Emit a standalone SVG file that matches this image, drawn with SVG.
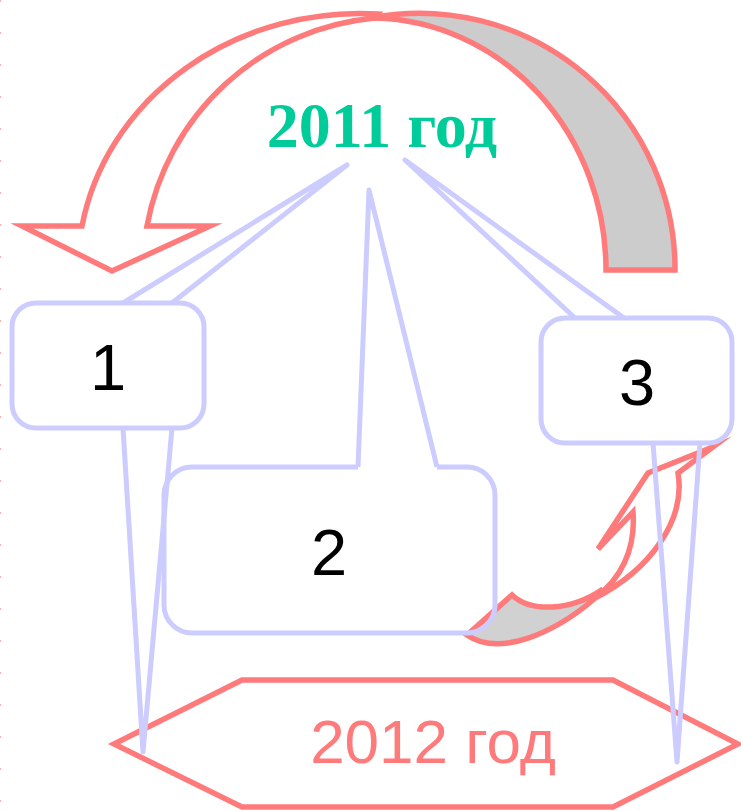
<svg xmlns="http://www.w3.org/2000/svg" width="741" height="811" viewBox="0 0 741 811">
<style>
.red{stroke:#FF7B7B;stroke-width:5.5;stroke-linejoin:miter;stroke-miterlimit:8}
.lav{fill:none;stroke:#CCCCFF;stroke-width:5;stroke-linejoin:round}
.num{font-family:"Liberation Sans",Arial,sans-serif;font-size:65px;fill:#000;text-anchor:middle}
</style>
<rect width="741" height="811" fill="#fff"/>
<line x1="0.6" y1="0" x2="0.6" y2="811" stroke="#FFB0B0" stroke-width="1.2" stroke-dasharray="2 30"/>

<g id="arc-arrow">
<path class="red" fill="#CCCCCC" d="M 375,17 A 256,256 0 0 1 675,270 L 606,270 A 236,252 0 0 0 375,18 Z"/>
<path class="red" fill="#FFFFFF" d="M 147,226 L 210,226 L 112,271 L 22,226 L 82,226 A 282,257 0 0 1 378,14 L 375,18 A 255,255 0 0 0 147,226 Z"/>
</g>

<g id="label-2011">
<text x="382" y="147" font-family="'Liberation Serif','Times New Roman',serif" font-weight="bold" font-size="64" fill="#00CC99" text-anchor="middle">2011 год</text>
</g>

<g id="hexagon-2012">
<polygon class="red" fill="#FFFFFF" points="114,744 242,680 613,680 738,744 613,807 242,807"/>
<text x="433" y="763" font-family="'Liberation Sans',Arial,sans-serif" font-size="62" fill="#FF7B7B" text-anchor="middle">2012 год</text>
</g>

<g id="curved-arrow">
<path class="red" fill="#CCCCCC" fill-opacity="0.9" d="M 467,635 L 512,595 C 530,612 570,612 603,589 L 593,600 C 555,632 500,658 467,635 Z"/>
<path class="red" fill="#FFFFFF" d="M 595,598 C 620,580 636,550 633,512 L 598,549 L 648,473 L 713,447 L 678,473 C 686,520 650,570 595,598 Z"/>
</g>

<g id="box-1">
<rect class="lav" x="12" y="303" width="192" height="125" rx="24" ry="24"/>
<text class="num" x="108" y="390">1</text>
</g>

<g id="box-2">
<path class="lav" d="M 437,467 L 467,467 A 28,28 0 0 1 495,495 L 495,605 A 28,28 0 0 1 467,633 L 192,633 A 28,28 0 0 1 164,605 L 164,495 A 28,28 0 0 1 192,467 L 358,467"/>
<text class="num" x="329" y="575">2</text>
</g>

<g id="box-3">
<rect class="lav" x="541" y="318" width="191" height="125" rx="24" ry="24"/>
<text class="num" x="637" y="405">3</text>
</g>

<g id="connectors">
<polyline class="lav" points="123,303 347,165 172,303"/>
<polyline class="lav" points="123,428 143,752 172,428"/>
<polyline class="lav" points="358,467 369,190 437,467"/>
<polyline class="lav" points="575,318 405,160 624,318"/>
<polyline class="lav" points="653,443 677,762 700,443"/>
</g>
</svg>
